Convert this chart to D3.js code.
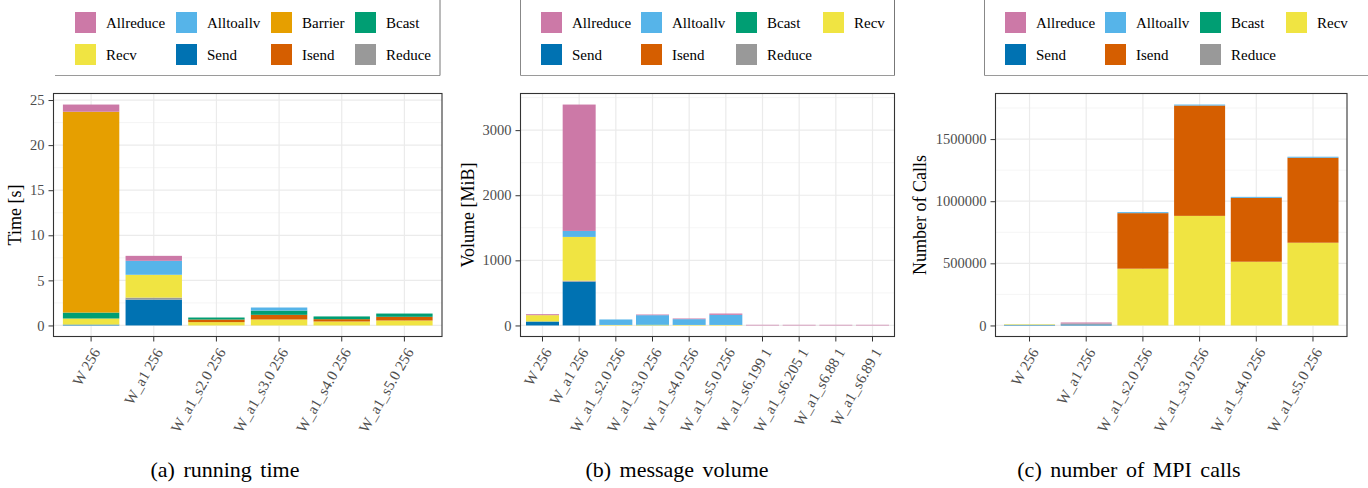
<!DOCTYPE html>
<html lang="en">
<head>
<meta charset="UTF-8">
<title>MPI profile: running time, message volume, number of calls</title>
<script src="https://d3js.org/d3.v7.min.js"></script>
<style>
    body {
        margin: 0;
        background: #fff;
    }
    svg text {
        font-family: "Liberation Serif", "Times New Roman", serif;
    }
    .tick text {
        fill: #4d4d4d;
        font-size: 14.5px;
    }
    .x-axis .tick text {
        font-size: 15px;
    }
    .tick line {
        stroke: #333;
    }
    .axis-title {
        font-size: 18px;
        fill: #000;
    }
    .legend-label {
        font-size: 15px;
        fill: #000;
    }
    .caption {
        font-size: 22px;
        fill: #000;
        word-spacing: 3px;
    }
</style>
</head>
<body>
<svg id="chart" width="1368" height="488"></svg>
<script>
    // colours of the MPI operations
    const colors = {
        Allreduce: '#CC79A7',
        Alltoallv: '#56B4E9',
        Barrier: '#E69F00',
        Bcast: '#009E73',
        Recv: '#F0E442',
        Send: '#0072B2',
        Isend: '#D55E00',
        Reduce: '#999999'
    };
    // bottom -> top
    const stackOrder = ['Send', 'Reduce', 'Recv', 'Isend', 'Bcast', 'Barrier', 'Alltoallv', 'Allreduce'];

    // (a) running time [s]
    const timeCats = ['W 256', 'W_a1 256', 'W_a1_s2.0 256', 'W_a1_s3.0 256', 'W_a1_s4.0 256', 'W_a1_s5.0 256'];
    const timeSend      = [0.10, 2.87, 0,    0,    0,    0];
    const timeReduce    = [0,    0.22, 0,    0,    0,    0];
    const timeRecv      = [0.67, 2.53, 0.37, 0.66, 0.44, 0.55];
    const timeIsend     = [0,    0,    0.29, 0.52, 0.26, 0.41];
    const timeBcast     = [0.66, 0,    0.22, 0.47, 0.30, 0.36];
    const timeBarrier   = [22.27, 0,   0,    0,    0,    0];
    const timeAlltoallv = [0,    1.55, 0,    0.34, 0,    0];
    const timeAllreduce = [0.80, 0.55, 0,    0,    0,    0];
    const timeTicks = [0, 5, 10, 15, 20, 25];

    // (b) message volume [MiB]
    const volCats = ['W 256', 'W_a1 256', 'W_a1_s2.0 256', 'W_a1_s3.0 256', 'W_a1_s4.0 256', 'W_a1_s5.0 256',
        'W_a1_s6.199 1', 'W_a1_s6.205 1', 'W_a1_s6.88 1', 'W_a1_s6.89 1'];
    const volSend      = [61, 672, 0,  0,   0,  0,   0,  0,  0,  0];
    const volReduce    = [0,  16,  0,  0,   0,  0,   0,  0,  0,  0];
    const volRecv      = [97, 672, 8,  5,   8,  8,   0,  0,  0,  0];
    const volBcast     = [0,  0,   0,  8,   0,  0,   0,  0,  0,  0];
    const volAlltoallv = [0,  92,  84, 145, 89, 155, 0,  0,  0,  0];
    const volAllreduce = [15, 1941, 0, 10,  10, 20,  10, 10, 10, 10];
    const volTicks = [0, 1000, 2000, 3000];

    // (c) number of MPI calls
    const callCats = ['W 256', 'W_a1 256', 'W_a1_s2.0 256', 'W_a1_s3.0 256', 'W_a1_s4.0 256', 'W_a1_s5.0 256'];
    const callSend      = [5000, 8000, 0,      0,      0,      0];
    const callReduce    = [0,    8000, 0,      0,      0,      0];
    const callRecv      = [4000, 0,    457000, 882000, 513000, 666000];
    const callIsend     = [0,    0,    447000, 888000, 514000, 684000];
    const callAlltoallv = [0,    0,    8000,   8000,   8000,   8000];
    const callAllreduce = [0,    8000, 0,      0,      0,      0];
    const callTicks = [0, 500000, 1000000, 1500000];

    const svg = d3.select('#chart');

    const panels = [
        {
            cats: timeCats,
            values: { Send: timeSend, Reduce: timeReduce, Recv: timeRecv, Isend: timeIsend, Bcast: timeBcast,
                      Barrier: timeBarrier, Alltoallv: timeAlltoallv, Allreduce: timeAllreduce },
            ticks: timeTicks,
            title: 'Time [s]', titleX: 21,
            caption: '(a) running time', captionX: 225,
            x0: 53.5, x1: 442,
            legend: ['Allreduce', 'Alltoallv', 'Barrier', 'Bcast', 'Recv', 'Send', 'Isend', 'Reduce'],
            legendX: [75, 176, 271, 355],
            box: { left: null, right: 440, x0: 55, x1: 440 }
        },
        {
            cats: volCats,
            values: { Send: volSend, Reduce: volReduce, Recv: volRecv, Bcast: volBcast,
                      Alltoallv: volAlltoallv, Allreduce: volAllreduce },
            ticks: volTicks,
            title: 'Volume [MiB]', titleX: 474,
            caption: '(b) message volume', captionX: 677,
            x0: 520.5, x1: 894.5,
            legend: ['Allreduce', 'Alltoallv', 'Bcast', 'Recv', 'Send', 'Isend', 'Reduce'],
            legendX: [541, 641, 736, 823],
            box: { left: 520.5, right: 894.5, x0: 520.5, x1: 894.5 }
        },
        {
            cats: callCats,
            values: { Send: callSend, Reduce: callReduce, Recv: callRecv, Isend: callIsend,
                      Alltoallv: callAlltoallv, Allreduce: callAllreduce },
            ticks: callTicks,
            title: 'Number of Calls', titleX: 926,
            caption: '(c) number of MPI calls', captionX: 1129,
            x0: 995.5, x1: 1347,
            legend: ['Allreduce', 'Alltoallv', 'Bcast', 'Recv', 'Send', 'Isend', 'Reduce'],
            legendX: [1005, 1105, 1200, 1286],
            box: { left: 984.5, right: null, x0: 984.5, x1: 1368 }
        }
    ];

    const plotTop = 93.5;
    const plotBottom = 336.5;

    panels.forEach(drawPanel);

    function drawPanel(p) {
        const g = svg.append('g');

        const x = d3.scaleBand()
            .domain(p.cats)
            .range([p.x0, p.x1])
            .paddingInner(0.1)
            .paddingOuter(0.15);

        const rows = p.cats.map((c, i) => {
            const r = { cat: c };
            stackOrder.forEach(op => r[op] = p.values[op] ? p.values[op][i] : 0);
            return r;
        });
        const series = d3.stack().keys(stackOrder)(rows);
        const maxV = d3.max(rows, r => d3.sum(stackOrder, op => r[op]));

        // ggplot style 5% expansion
        const y = d3.scaleLinear()
            .domain([-0.05 * maxV, 1.05 * maxV])
            .range([plotBottom, plotTop]);

        // grid
        const step = p.ticks[1] - p.ticks[0];
        const minor = d3.range(p.ticks[0] - step / 2, p.ticks[p.ticks.length - 1] + step, step)
            .filter(v => v > y.domain()[0] && v < y.domain()[1]);

        g.selectAll('.minor').data(minor).enter().append('line')
            .attr('x1', p.x0).attr('x2', p.x1)
            .attr('y1', d => y(d)).attr('y2', d => y(d))
            .attr('stroke', '#f2f2f2').attr('stroke-width', 0.8);
        g.selectAll('.major').data(p.ticks).enter().append('line')
            .attr('x1', p.x0).attr('x2', p.x1)
            .attr('y1', d => y(d)).attr('y2', d => y(d))
            .attr('stroke', '#ebebeb').attr('stroke-width', 1.2);
        g.selectAll('.vgrid').data(p.cats).enter().append('line')
            .attr('x1', d => x(d) + x.bandwidth() / 2).attr('x2', d => x(d) + x.bandwidth() / 2)
            .attr('y1', plotTop).attr('y2', plotBottom)
            .attr('stroke', '#ebebeb').attr('stroke-width', 1.2);

        // stacked bars
        series.forEach(s => {
            g.selectAll(null)
                .data(s.filter(d => d[1] > d[0]))
                .enter().append('rect')
                .attr('x', d => x(d.data.cat))
                .attr('width', x.bandwidth())
                .attr('y', d => y(d[1]))
                .attr('height', d => y(d[0]) - y(d[1]))
                .attr('fill', colors[s.key]);
        });

        // panel border
        g.append('rect')
            .attr('x', p.x0).attr('y', plotTop)
            .attr('width', p.x1 - p.x0).attr('height', plotBottom - plotTop)
            .attr('fill', 'none').attr('stroke', '#333').attr('stroke-width', 1.1);

        // y axis
        const yAxis = g.append('g')
            .attr('transform', `translate(${p.x0},0)`)
            .call(d3.axisLeft(y).tickValues(p.ticks).tickSize(5).tickPadding(4).tickFormat(d3.format('d')));
        yAxis.select('.domain').remove();

        // x axis with rotated labels
        const xAxis = g.append('g')
            .attr('class', 'x-axis')
            .attr('transform', `translate(0,${plotBottom})`)
            .call(d3.axisBottom(x).tickSize(5));
        xAxis.select('.domain').remove();
        xAxis.selectAll('text')
            .attr('x', 0).attr('y', 0)
            .attr('dy', '0.75em')
            .attr('text-anchor', 'end')
            .attr('transform', 'translate(0,10) rotate(-60)');

        // axis title
        g.append('text')
            .attr('class', 'axis-title')
            .attr('transform', `translate(${p.titleX},${(plotTop + plotBottom) / 2}) rotate(-90)`)
            .attr('text-anchor', 'middle')
            .text(p.title);

        // caption
        g.append('text')
            .attr('class', 'caption')
            .attr('x', p.captionX).attr('y', 477)
            .attr('text-anchor', 'middle')
            .text(p.caption);

        // legend box (cropped at top)
        const lb = p.box;
        g.append('line').attr('x1', lb.x0).attr('x2', lb.x1).attr('y1', 75.5).attr('y2', 75.5)
            .attr('stroke', '#9a9a9a');
        if (lb.left !== null) {
            g.append('line').attr('x1', lb.left).attr('x2', lb.left).attr('y1', 0).attr('y2', 75.5)
                .attr('stroke', '#888');
        }
        if (lb.right !== null) {
            g.append('line').attr('x1', lb.right).attr('x2', lb.right).attr('y1', 0).attr('y2', 75.5)
                .attr('stroke', '#777');
        }

        const items = g.selectAll('.legend-item')
            .data(p.legend)
            .enter().append('g')
            .attr('transform', (d, i) => `translate(${p.legendX[i % 4]},${i < 4 ? 12 : 44})`);
        items.append('rect')
            .attr('width', 21).attr('height', 21)
            .attr('fill', d => colors[d]);
        items.append('text')
            .attr('class', 'legend-label')
            .attr('x', 31).attr('y', 15.5)
            .text(d => d);
    }
</script>
</body>
</html>
